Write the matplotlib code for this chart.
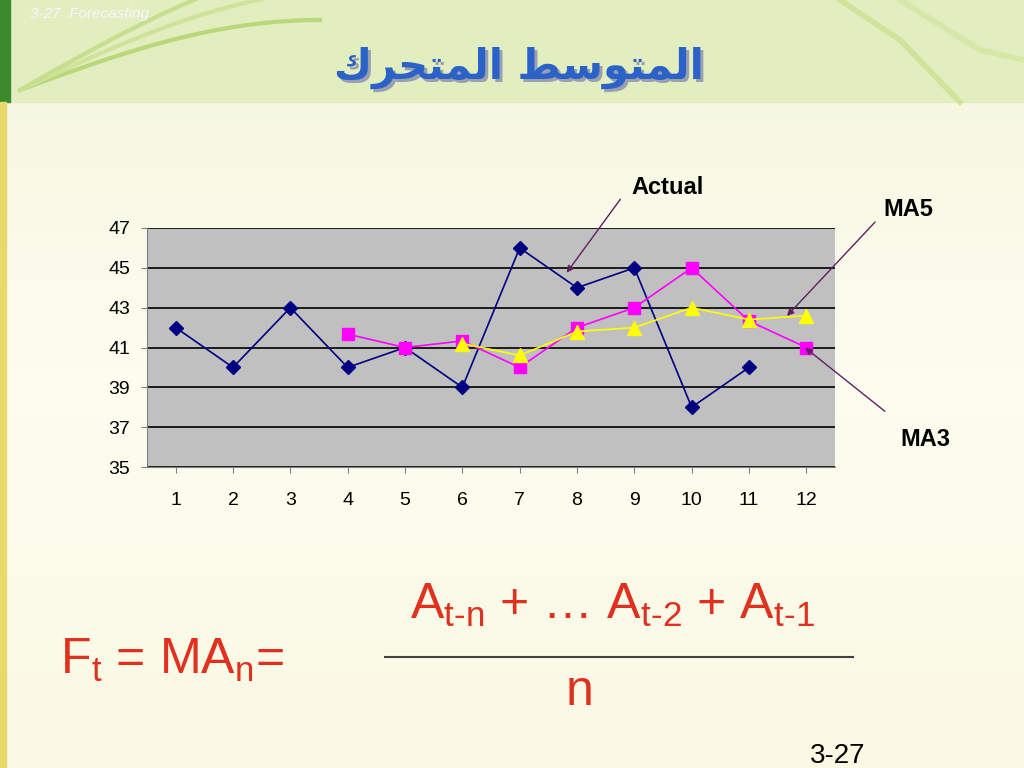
import matplotlib
matplotlib.use("Agg")
import matplotlib.pyplot as plt
import numpy as np
from matplotlib.patches import Rectangle
from matplotlib.colors import LinearSegmentedColormap

periods = list(range(1, 13))
tick_labels = [str(p) for p in periods]
actual_x = list(range(1, 12))
actual = [42, 40, 43, 40, 41, 39, 46, 44, 45, 38, 40]
ma3_x = list(range(4, 13))
ma3 = [41.67, 41.0, 41.33, 40.0, 42.0, 43.0, 45.0, 42.33, 41.0]
ma5_x = list(range(6, 13))
ma5 = [41.2, 40.6, 41.8, 42.0, 43.0, 42.4, 42.6]
yticks = [35, 37, 39, 41, 43, 45, 47]

plt.rcParams['font.family'] = 'Liberation Sans'
plt.rcParams['mathtext.fontset'] = 'custom'
plt.rcParams['mathtext.rm'] = 'Liberation Sans'
plt.rcParams['mathtext.it'] = 'Liberation Sans'

fig = plt.figure(figsize=(10.24, 7.68), dpi=100)
bg = fig.add_axes([0, 0, 1, 1])
bg.set_xlim(0, 1024); bg.set_ylim(768, 0); bg.axis('off')
grad = np.linspace(0, 1, 256).reshape(-1, 1)
cm = LinearSegmentedColormap.from_list('g', ['#f3f6dc', '#fdfdf0', '#fbf9e4'])
bg.imshow(grad, extent=[0, 1024, 768, 0], cmap=cm, aspect='auto')
bg.add_patch(Rectangle((0, 0), 1024, 102, color='#e2edc0'))
bg.add_patch(Rectangle((0, 0), 10, 102, color='#3d8a2e'))
bg.add_patch(Rectangle((0, 102), 6, 666, color='#e8d96a'))
t = np.linspace(0, 1, 100)
for k, c in [(0, '#b9d87a'), (30, '#cfe39a'), (60, '#c6df8c')]:
    bg.plot(20 + 300 * t, 90 - 70 * np.sin(t * np.pi / 2) - k * t, color=c, lw=3)
bg.plot([840, 900, 960], [0, 40, 102], color='#cfe39a', lw=4)
bg.plot([900, 980, 1024], [0, 50, 60], color='#d6e8a8', lw=4)

bg.text(30, 14, '3-27  Forecasting', color='#f4f8ff', fontsize=11, style='italic', va='center')

logical = '\uFE8D\uFEDF\uFEE4\uFE98\uFEEE\uFEB3\uFEC2 \uFE8D\uFEDF\uFEE4\uFE98\uFEA4\uFEAE\uFED9'
title = logical[::-1]
bg.text(522, 71, title, fontsize=30, fontweight='bold', color='#9aa0b0', ha='center', va='center', family='DejaVu Sans')
bg.text(519, 68, title, fontsize=30, fontweight='bold', color='#2a62c8', ha='center', va='center', family='DejaVu Sans')

ax = fig.add_axes([147/1024, 1 - 467/768, 688/1024, 239/768])
ax.set_facecolor('#c0c0c0')
ax.set_xlim(0.5, 12.5); ax.set_ylim(35, 47)
ax.set_yticks(yticks)
ax.set_xticks(periods); ax.set_xticklabels(tick_labels)
for y in yticks:
    ax.axhline(y, color='black', lw=1.2, zorder=1)
ax.plot(actual_x, actual, color='#000080', marker='D', ms=7, lw=1.2, zorder=3)
ax.plot(ma3_x, ma3, color='#ff00ff', marker='s', ms=9, lw=1.2, zorder=3)
ax.plot(ma5_x, ma5, color='#ffff00', marker='^', ms=10, lw=1.2, zorder=4)
for s in ['top', 'right']:
    ax.spines[s].set_visible(False)
ax.spines['bottom'].set_color('#808080'); ax.spines['left'].set_color('#808080')
ax.tick_params(axis='both', labelsize=14, length=4, color='#808080', pad=14)
ax.tick_params(axis='y', pad=8)

ov = fig.add_axes([0, 0, 1, 1], zorder=10)
ov.set_xlim(0, 1024); ov.set_ylim(768, 0); ov.axis('off'); ov.patch.set_alpha(0)
arrow = dict(arrowstyle='-|>', color='#602060', lw=1)
ov.annotate('', xy=(565, 275), xytext=(622, 197), arrowprops=arrow)
ov.text(668, 188, 'Actual', fontsize=17, fontweight='bold', ha='center', va='center')
ov.annotate('', xy=(785, 318), xytext=(877, 220), arrowprops=arrow)
ov.text(908, 210, 'MA5', fontsize=17, fontweight='bold', ha='center', va='center')
ov.annotate('', xy=(803, 346), xytext=(887, 413), arrowprops=arrow)
ov.text(925, 440, 'MA3', fontsize=17, fontweight='bold', ha='center', va='center')

red = '#e0301e'
ov.text(60, 660, r'F$_\mathrm{t}$ = MA$_\mathrm{n}$=', fontsize=36, color=red, va='center')
ov.text(410, 605, r'A$_\mathrm{t\text{-}n}$ + … A$_\mathrm{t\text{-}2}$ + A$_\mathrm{t\text{-}1}$', fontsize=36, color=red, va='center')
ov.plot([385, 853], [657, 657], color='#404040', lw=1.5)
ov.text(580, 692, 'n', fontsize=36, color=red, ha='center', va='center')
ov.text(838, 756, '3-27', fontsize=20, ha='center', va='center')

fig.savefig('out.png', dpi=100)
